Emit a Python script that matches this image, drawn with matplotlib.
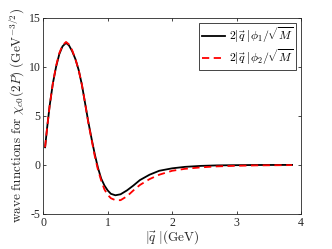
import matplotlib
matplotlib.use('Agg')
import matplotlib.pyplot as plt

plt.rcParams['font.family'] = 'Liberation Serif'
plt.rcParams['mathtext.fontset'] = 'cm'
plt.rcParams['axes.unicode_minus'] = False

# values
q = [0.03, 0.06, 0.1, 0.15, 0.2, 0.25, 0.3, 0.355, 0.4, 0.45, 0.5, 0.55,
     0.6, 0.65, 0.7, 0.75, 0.8, 0.85, 0.9, 0.95, 1.0, 1.05, 1.12, 1.2, 1.3,
     1.4, 1.5, 1.65, 1.8, 2.0, 2.2, 2.45, 2.7, 2.95, 3.3, 3.86]
phi1 = [1.8, 3.7, 6.0, 8.3, 10.0, 11.3, 12.1, 12.45, 12.2, 11.6, 10.8, 9.7,
        8.2, 6.3, 4.4, 2.7, 1.1, -0.3, -1.4, -2.1, -2.6, -2.95, -3.1, -3.0,
        -2.6, -2.1, -1.55, -1.0, -0.6, -0.35, -0.2, -0.1, -0.05, -0.03,
        -0.01, 0.0]
phi2 = [1.8, 3.7, 6.0, 8.3, 10.1, 11.4, 12.2, 12.55, 12.3, 11.7, 10.8, 9.7,
        8.2, 6.3, 4.3, 2.6, 0.9, -0.5, -1.6, -2.5, -3.05, -3.4, -3.6, -3.6,
        -3.2, -2.6, -2.05, -1.45, -1.0, -0.6, -0.4, -0.25, -0.15, -0.1,
        -0.05, -0.02]

fig = plt.figure(figsize=(3.32, 2.49), dpi=100)
ax = fig.add_axes([0.130, 0.141, 0.777, 0.787])

ax.plot(q, phi1, color='black', lw=1.3, label=r'$2|\vec{q}\ |\phi_1/\sqrt{M}$')
ax.plot(q, phi2, color='red', lw=1.3, ls=(0, (4, 2.5)),
        label=r'$2|\vec{q}\ |\phi_2/\sqrt{M}$')

ax.set_xlim(0, 4)
ax.set_ylim(-5, 15)
ax.set_xticks([0, 1, 2, 3, 4])
ax.set_yticks([-5, 0, 5, 10, 15])
ax.tick_params(direction='in', top=True, right=True, length=2.5, width=0.6,
               labelsize=8.5, colors='#262626', pad=2)
for s in ax.spines.values():
    s.set_color('#262626')
    s.set_linewidth(0.6)

ax.set_xlabel(r'$|\vec{q}\ |(\mathrm{GeV})$', fontsize=9.5, color='#262626',
              labelpad=0)
ax.set_ylabel(r'$\mathrm{wave\ functions\ for}\ \chi_{c0}(2P)\ (\mathrm{GeV}^{-3/2})$',
              fontsize=9.5, color='#262626', labelpad=1)

leg = ax.legend(loc='upper right', fontsize=8.5, fancybox=False, framealpha=1,
                edgecolor='#262626', borderpad=0.25, labelspacing=0.15,
                handlelength=2.0, handletextpad=0.3, borderaxespad=0.4)
leg.get_frame().set_linewidth(0.6)

fig.savefig('out.png', dpi=100)
